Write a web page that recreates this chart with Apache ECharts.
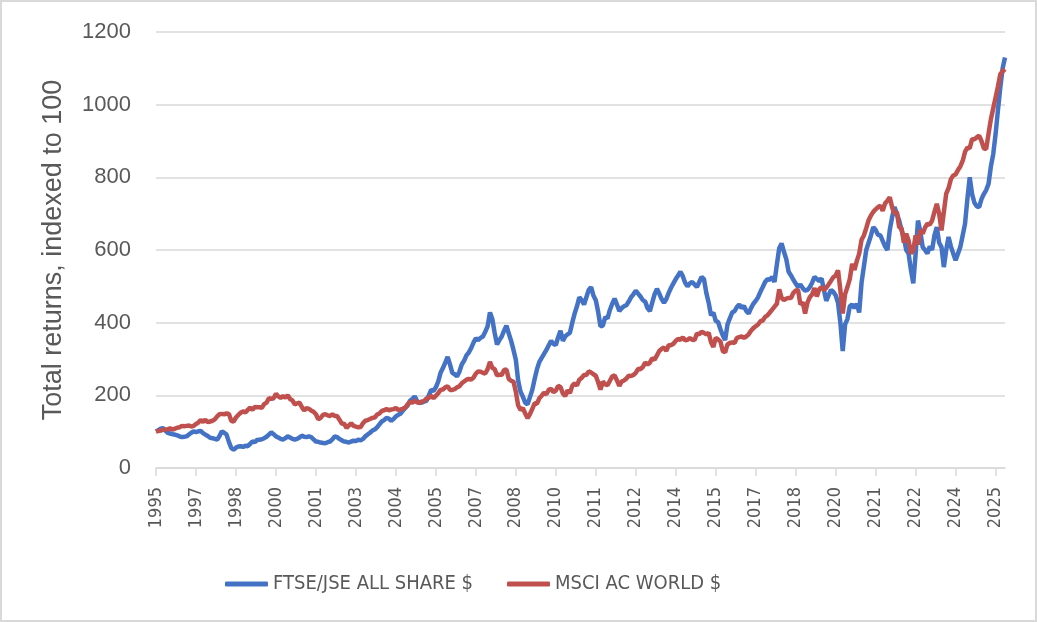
<!DOCTYPE html>
<html>
<head>
<meta charset="utf-8">
<script src="https://cdn.jsdelivr.net/npm/echarts@6/dist/echarts.min.js"></script>
<style>
  html, body { margin: 0; padding: 0; background: #fff; }
  #wrap { position: relative; width: 1037px; height: 622px; }
  #chart { width: 1037px; height: 622px; }
  #frame { position: absolute; left: 0; top: 0; width: 1037px; height: 622px;
           box-sizing: border-box; border: 2px solid #d9d9d9; pointer-events: none; }
</style>
</head>
<body>
<div id="wrap">
  <div id="chart"></div>
  <div id="frame"></div>
</div>
<script>
// monthly total returns, Dec 1995 = 100, one row per calendar year
var startYear = 1995, startMonth = 12;
var seriesNames = ['FTSE/JSE ALL SHARE $', 'MSCI AC WORLD $'];
var yTicks = [0, 200, 400, 600, 800, 1000, 1200];

var jse = [100,
  104, 108, 110, 103, 97, 95, 93, 92, 90, 87, 85, 86,          // 1996
  87, 92, 97, 101, 99, 101, 102, 96, 92, 88, 83, 82,           // 1997
  80, 78, 88, 101, 97, 92, 72, 55, 50, 56, 59, 60,             // 1998
  58, 61, 60, 66, 73, 71, 77, 78, 79, 82, 86, 92,              // 1999
  98, 93, 87, 84, 80, 78, 82, 87, 84, 80, 78, 80,              // 2000
  84, 89, 86, 85, 87, 85, 79, 73, 72, 70, 69, 68,              // 2001
  71, 73, 79, 87, 85, 80, 76, 73, 72, 70, 73, 75,              // 2002
  74, 78, 76, 80, 87, 92, 97, 103, 106, 112, 120, 128,         // 2003
  132, 138, 136, 130, 135, 142, 146, 150, 158, 165, 172, 185,  // 2004
  190, 197, 185, 179, 180, 183, 185, 200, 215, 212, 222, 238,  // 2005
  262, 275, 290, 306, 285, 262, 258, 252, 265, 285, 295, 310,  // 2006
  318, 330, 345, 357, 352, 358, 362, 375, 390, 428, 410, 372,  // 2007
  340, 352, 362, 378, 392, 370, 350, 325, 298, 240, 210, 196,  // 2008
  180, 175, 195, 215, 245, 272, 292, 303, 314, 325, 338, 350,  // 2009
  342, 338, 360, 378, 350, 362, 368, 372, 400, 425, 445, 470,  // 2010
  462, 450, 470, 490, 498, 475, 462, 430, 390, 392, 415, 412,  // 2011
  435, 452, 466, 450, 432, 440, 445, 448, 458, 470, 478, 488,  // 2012
  480, 472, 462, 458, 440, 432, 455, 478, 493, 480, 465, 455,  // 2013
  465, 482, 496, 508, 520, 530, 540, 528, 510, 500, 508, 512,  // 2014
  505, 498, 512, 526, 520, 482, 455, 420, 428, 405, 402, 382,  // 2015
  365, 352, 395, 412, 428, 432, 443, 450, 440, 446, 432, 425,  // 2016
  440, 452, 460, 470, 485, 498, 512, 520, 518, 526, 512, 560,  // 2017
  605, 618, 595, 575, 540, 530, 518, 508, 498, 505, 495, 488,  // 2018
  490, 498, 510, 526, 520, 515, 522, 490, 460, 475, 490, 485,  // 2019
  475, 455, 400, 322, 395, 410, 445, 450, 440, 452, 428, 510,  // 2020
  555, 600, 620, 640, 663, 655, 642, 640, 625, 610, 600, 655,  // 2021
  690, 718, 700, 681, 655, 636, 600, 590, 545, 508, 590, 681,  // 2022
  650, 608, 600, 590, 610, 600, 640, 663, 620, 608, 553, 600,  // 2023
  636, 610, 590, 572, 590, 608, 640, 672, 740, 800, 754, 730,  // 2024
  720, 718, 740, 754, 765, 782, 830, 864, 919, 985, 1047, 1100, // 2025
  1130];

var acwi = [100,
  102, 103, 105, 106, 107, 109, 106, 108, 111, 112, 116, 115,  // 1996
  116, 117, 114, 116, 121, 125, 132, 127, 133, 126, 128, 130,  // 1997
  134, 142, 148, 149, 148, 150, 149, 130, 128, 139, 146, 152,  // 1998
  156, 153, 160, 166, 160, 168, 167, 167, 166, 176, 180, 192,  // 1999
  190, 192, 204, 197, 193, 198, 194, 200, 190, 186, 175, 178,  // 2000
  180, 168, 158, 165, 163, 158, 155, 148, 134, 138, 146, 148,  // 2001
  145, 143, 148, 143, 143, 133, 122, 122, 110, 117, 123, 116,  // 2002
  114, 112, 113, 123, 130, 132, 135, 138, 139, 147, 150, 157,  // 2003
  159, 162, 159, 161, 162, 165, 160, 161, 163, 167, 175, 182,  // 2004
  180, 185, 181, 179, 183, 184, 191, 193, 199, 192, 199, 206,  // 2005
  215, 216, 222, 225, 215, 215, 217, 222, 225, 233, 238, 243,  // 2006
  245, 243, 249, 260, 266, 265, 262, 260, 272, 292, 276, 272,  // 2007
  255, 257, 256, 270, 271, 245, 240, 238, 210, 172, 160, 165,  // 2008
  150, 137, 148, 163, 178, 177, 192, 199, 207, 203, 215, 218,  // 2009
  209, 213, 226, 223, 205, 198, 214, 206, 226, 233, 227, 243,  // 2010
  248, 256, 256, 266, 263, 258, 254, 236, 216, 238, 230, 228,  // 2011
  240, 252, 255, 241, 226, 238, 241, 246, 254, 253, 256, 262,  // 2012
  273, 272, 278, 290, 285, 290, 302, 298, 310, 322, 328, 332,  // 2013
  322, 338, 338, 342, 350, 355, 353, 360, 351, 353, 358, 353,  // 2014
  352, 370, 368, 375, 372, 368, 372, 346, 333, 358, 354, 348,  // 2015
  322, 318, 340, 344, 346, 344, 358, 360, 362, 358, 362, 368,  // 2016
  378, 385, 390, 395, 404, 406, 416, 420, 428, 436, 444, 452,  // 2017
  492, 468, 462, 466, 468, 468, 482, 488, 490, 450, 456, 425,  // 2018
  455, 470, 478, 495, 472, 492, 498, 490, 496, 505, 515, 525,  // 2019
  530, 544, 490, 425, 478, 498, 520, 562, 545, 570, 590, 628,  // 2020
  640, 660, 682, 695, 705, 712, 718, 722, 708, 728, 736, 745,  // 2021
  718, 700, 705, 663, 660, 620, 645, 626, 590, 600, 640, 615,  // 2022
  655, 645, 662, 672, 670, 681, 705, 727, 700, 654, 705, 755,  // 2023
  770, 795, 805, 808, 820, 830, 845, 870, 882, 880, 905, 905,  // 2024
  910, 915, 900, 880, 878, 920, 960, 990, 1020, 1050, 1084, 1092, // 2025
  1098];

// month labels YYYY-MM starting Dec 1995
var months = [];
for (var k = 0; k < jse.length; k++) {
  var m = startMonth - 1 + k;
  var yr = startYear + Math.floor(m / 12);
  var mo = (m % 12) + 1;
  months.push(yr + '-' + (mo < 10 ? '0' + mo : mo));
}

var textGray = '#595959';
var gridGray = '#d9d9d9';
var narrow = '"Liberation Sans Narrow", "DejaVu Sans Condensed", sans-serif';
var plain = '"Liberation Sans", Arial, sans-serif';

var chart = echarts.init(document.getElementById('chart'));

var option = {
  animation: false,
  color: ['#4472c4', '#c0504d'],
  grid: {
    left: 156,
    right: 32,
    top: 32,
    bottom: 154
  },
  legend: {
    left: 220,
    top: 569,
    icon: 'roundRect',
    itemWidth: 43,
    itemHeight: 5,
    itemGap: 34,
    textStyle: {
      fontFamily: narrow,
      fontSize: 20,
      color: textGray
    },
    data: seriesNames
  },
  xAxis: {
    type: 'category',
    boundaryGap: false,
    data: months,
    axisLine: { lineStyle: { color: gridGray, width: 1.5 } },
    axisTick: { interval: 16, length: 8, lineStyle: { color: gridGray, width: 1.5 } },
    axisLabel: {
      interval: 16,
      rotate: 90,
      margin: 19,
      fontFamily: narrow,
      fontSize: 18,
      color: textGray,
      formatter: function (v) { return v.slice(0, 4); }
    }
  },
  yAxis: {
    type: 'value',
    min: yTicks[0],
    max: yTicks[yTicks.length - 1],
    interval: yTicks[1] - yTicks[0],
    name: 'Total returns, indexed to 100',
    nameLocation: 'middle',
    nameGap: 89,
    nameTextStyle: {
      fontFamily: plain,
      fontSize: 27,
      color: textGray
    },
    axisLine: { show: false },
    axisTick: { show: false },
    splitLine: { lineStyle: { color: gridGray, width: 1.5 } },
    axisLabel: {
      margin: 25,
      fontFamily: plain,
      fontSize: 22,
      color: textGray,
      formatter: function (v) { return String(v); }
    }
  },
  series: [
    {
      name: seriesNames[0],
      type: 'line',
      data: jse,
      showSymbol: false,
      lineStyle: { width: 4.5 }
    },
    {
      name: seriesNames[1],
      type: 'line',
      data: acwi,
      showSymbol: false,
      lineStyle: { width: 4.5 }
    }
  ]
};

chart.setOption(option);
</script>
</body>
</html>
